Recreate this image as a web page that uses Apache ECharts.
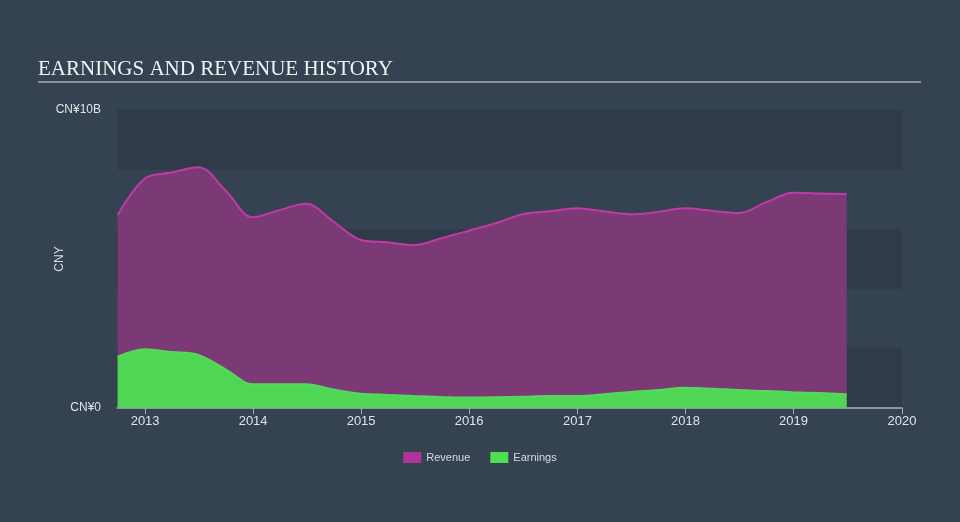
<!DOCTYPE html>
<html>
<head>
<meta charset="utf-8">
<script src="https://cdn.jsdelivr.net/npm/echarts@6/dist/echarts.min.js"></script>
<style>
html,body{margin:0;padding:0;background:#344252;}
#chart{width:960px;height:522px;}
</style>
</head>
<body>
<div id="chart"></div>
<script>
const dates = ['2012-09-30','2012-12-31','2013-03-31','2013-06-30','2013-09-30','2013-12-31',
  '2014-03-31','2014-06-30','2014-09-30','2014-12-31','2015-03-31','2015-06-30','2015-09-30',
  '2015-12-31','2016-03-31','2016-06-30','2016-09-30','2016-12-31','2017-03-31','2017-06-30',
  '2017-09-30','2017-12-31','2018-03-31','2018-06-30','2018-09-30','2018-12-31','2019-03-31','2019-06-30'];
const revenue = [6.48,7.7,7.9,8.08,7.3,6.4,6.64,6.85,6.25,5.64,5.56,5.47,5.7,5.95,6.2,6.5,6.6,6.7,6.6,6.5,
  6.58,6.7,6.62,6.54,6.9,7.22,7.2,7.18];
const earnings = [1.72,1.97,1.88,1.78,1.3,0.8,0.8,0.8,0.62,0.48,0.44,0.4,0.37,0.35,0.36,0.38,0.4,0.4,
  0.46,0.54,0.6,0.68,0.65,0.6,0.57,0.53,0.5,0.46];
const yTicks = {0:'CN¥0', 10:'CN¥10B'};
const seriesNames = ['Revenue','Earnings'];

const chart = echarts.init(document.getElementById('chart'));
const YEAR = 365.25*24*3600*1000;
chart.setOption({
  backgroundColor: '#344252',
  animation: false,
  title: {
    text: 'EARNINGS AND REVENUE HISTORY',
    left: 33, top: 54,
    textStyle: {fontFamily: 'Liberation Serif', fontWeight: 'normal', fontSize: 21, color: '#f2f2f2'}
  },
  graphic: [{
    type: 'line', shape: {x1: 38, y1: 82, x2: 921, y2: 82},
    style: {stroke: '#a9aeb4', lineWidth: 1.5}
  }],
  legend: {
    data: seriesNames,
    bottom: 54, left: 'center',
    itemWidth: 18, itemHeight: 11, itemGap: 20,
    icon: 'rect',
    textStyle: {color: '#d8dce0', fontSize: 11, fontFamily: 'Liberation Sans'}
  },
  grid: {left: 117, right: 58, top: 110, bottom: 114},
  xAxis: {
    type: 'time',
    min: '2012-09-28', max: '2020-01-03',
    minInterval: YEAR * 0.99, maxInterval: YEAR * 1.01,
    axisLine: {show: true, lineStyle: {color: '#a9b0b8', width: 1.5}},
    axisTick: {show: true, length: 6, lineStyle: {color: '#a9b0b8'}},
    axisLabel: {color: '#e0e3e6', fontSize: 13, fontFamily: 'Liberation Sans', formatter: '{yyyy}', margin: 7,
      showMinLabel: false, showMaxLabel: true},
    splitLine: {show: false}
  },
  yAxis: {
    type: 'value', min: 0, max: 10, interval: 2,
    name: 'CNY', nameLocation: 'middle', nameGap: 51, nameRotate: 90, nameMoveOverlap: false,
    nameTextStyle: {color: '#d8dce0', fontSize: 12, fontFamily: 'Liberation Sans'},
    axisLine: {show: false}, axisTick: {show: false},
    axisLabel: {color: '#e0e3e6', fontSize: 12, fontFamily: 'Liberation Sans', margin: 16,
      formatter: v => yTicks[v] || ''},
    splitLine: {show: false},
    splitArea: {show: true, areaStyle: {color: ['rgba(30,40,52,0.25)', 'rgba(0,0,0,0)']}}
  },
  series: [
    {
      name: seriesNames[0], type: 'line', smooth: 0.35, symbol: 'none',
      data: dates.map((d, i) => [d, revenue[i]]),
      itemStyle: {color: '#ad3599'},
      lineStyle: {color: '#c13aa6', width: 2},
      areaStyle: {color: '#7b3a76', opacity: 1}
    },
    {
      name: seriesNames[1], type: 'line', smooth: 0.35, symbol: 'none',
      data: dates.map((d, i) => [d, earnings[i]]),
      itemStyle: {color: '#4fe04f'},
      lineStyle: {color: '#55d95a', width: 2},
      areaStyle: {color: '#50d655', opacity: 1}
    }
  ]
});
</script>
</body>
</html>
